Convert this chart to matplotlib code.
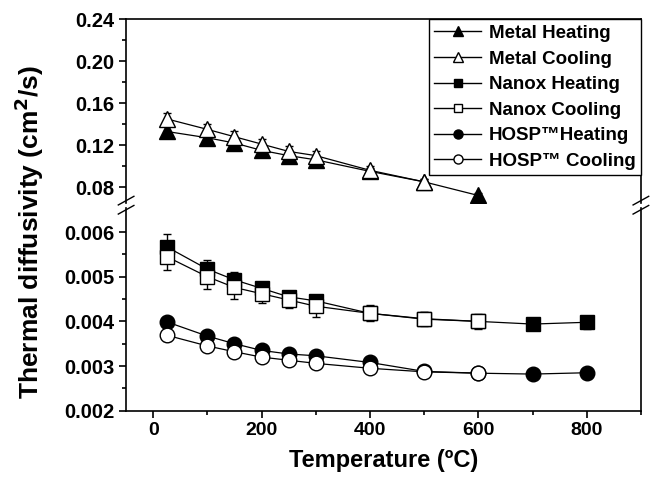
import numpy as np
import matplotlib as mpl
mpl.use('Agg')
import matplotlib.pyplot as plt
from matplotlib.lines import Line2D

plt.rcParams['font.family'] = ['Liberation Sans', 'DejaVu Sans']
plt.rcParams['font.weight'] = 'bold'

# temperatures (C)
temp_metal = [25, 100, 150, 200, 250, 300, 400, 500, 600]
metal_heat = [0.133, 0.127, 0.122, 0.115, 0.110, 0.106, 0.095, 0.085, 0.072]
metal_heat_err = [0.005, 0.004, 0.004, 0.004, 0.004, 0.004, 0.003, 0.003, 0.002]
temp_metal_c = [25, 100, 150, 200, 250, 300, 400, 500]
metal_cool = [0.145, 0.135, 0.128, 0.121, 0.114, 0.110, 0.096, 0.085]
metal_cool_err = [0.006, 0.005, 0.005, 0.005, 0.005, 0.004, 0.004, 0.003]

temp = [25, 100, 150, 200, 250, 300, 400, 500, 600, 700, 800]
nanox_heat = [0.00567, 0.00517, 0.00493, 0.00474, 0.00455, 0.00446, 0.00418, 0.00406, 0.00400, 0.00394, 0.00398]
nanox_heat_err = [0.00028, 0.00020, 0.00018, 0.00014, 0.00012, 0.00014, 0.00016, 0.00014, 0.00014, 0.00014, 0.00015]
temp_c = [25, 100, 150, 200, 250, 300, 400, 500, 600]
nanox_cool = [0.00545, 0.00500, 0.00476, 0.00462, 0.00448, 0.00434, 0.00418, 0.00405, 0.00400]
nanox_cool_err = [0.00030, 0.00028, 0.00026, 0.00020, 0.00018, 0.00024, 0.00018, 0.00016, 0.00016]

hosp_heat = [0.00399, 0.00367, 0.00350, 0.00335, 0.00327, 0.00323, 0.00308, 0.00288, 0.00284, 0.00282, 0.00285]
hosp_heat_err = [0.00010, 0.00008, 0.00008, 0.00008, 0.00007, 0.00007, 0.00008, 0.00006, 0.00006, 0.00006, 0.00006]
hosp_cool = [0.00369, 0.00345, 0.00332, 0.00320, 0.00313, 0.00306, 0.00295, 0.00287, 0.00284]
hosp_cool_err = [0.00012, 0.00011, 0.00010, 0.00009, 0.00009, 0.00008, 0.00008, 0.00007, 0.00006]

labels = ['Metal Heating', 'Metal Cooling', 'Nanox Heating', 'Nanox Cooling',
          'HOSP\u2122Heating', 'HOSP\u2122 Cooling']

fig = plt.figure(figsize=(6.5, 4.8), dpi=100)
ax_top = fig.add_axes([0.194, 0.577, 0.792, 0.383])
ax_bot = fig.add_axes([0.194, 0.1444, 0.792, 0.4223])

kw = dict(color='black', lw=0.9, elinewidth=1.0, capsize=3, capthick=1.0, mec='black')

# top panel: metal
ax_top.errorbar(temp_metal, metal_heat, yerr=metal_heat_err, fmt='-^', ms=11.5, mfc='black', **kw)
ax_top.errorbar(temp_metal_c, metal_cool, yerr=metal_cool_err, fmt='-^', ms=11.5, mfc='white', **kw)
# bottom panel: nanox and hosp
ax_bot.errorbar(temp, nanox_heat, yerr=nanox_heat_err, fmt='-s', ms=9.5, mfc='black', **kw)
ax_bot.errorbar(temp_c, nanox_cool, yerr=nanox_cool_err, fmt='-s', ms=9.5, mfc='white', **kw)
ax_bot.errorbar(temp, hosp_heat, yerr=hosp_heat_err, fmt='-o', ms=10.5, mfc='black', **kw)
ax_bot.errorbar(temp_c, hosp_cool, yerr=hosp_cool_err, fmt='-o', ms=10.5, mfc='white', **kw)

for ax in (ax_top, ax_bot):
    ax.set_xlim(-50, 900)
    for s in ax.spines.values():
        s.set_linewidth(1.2)
    ax.tick_params(axis='y', which='both', direction='out', right=False, labelsize=14.5, width=1.2)
    ax.tick_params(axis='y', which='major', length=5)
    ax.tick_params(axis='y', which='minor', length=3)

ax_top.set_ylim(0.0648, 0.24)
ax_top.set_yticks([0.08, 0.12, 0.16, 0.20, 0.24])
ax_top.set_yticklabels(['0.08', '0.12', '0.16', '0.20', '0.24'], fontweight='bold')
ax_top.set_yticks(np.arange(0.10, 0.23, 0.04), minor=True)
ax_top.spines['bottom'].set_visible(False)
ax_top.tick_params(axis='x', which='both', bottom=False, labelbottom=False, top=False)

ax_bot.set_ylim(0.002, 0.00654)
ax_bot.set_yticks([0.002, 0.003, 0.004, 0.005, 0.006])
ax_bot.set_yticklabels(['0.002', '0.003', '0.004', '0.005', '0.006'], fontweight='bold')
ax_bot.set_yticks(np.arange(0.0025, 0.0065, 0.001), minor=True)
ax_bot.spines['top'].set_visible(False)
ax_bot.set_xticks([0, 200, 400, 600, 800])
ax_bot.set_xticklabels(['0', '200', '400', '600', '800'], fontweight='bold')
ax_bot.set_xticks([100, 300, 500, 700, 900], minor=True)
ax_bot.tick_params(axis='x', which='both', direction='out', top=False, labelsize=14, width=1.2)
ax_bot.tick_params(axis='x', which='major', length=5)
ax_bot.tick_params(axis='x', which='minor', length=3)

ax_bot.set_xlabel('Temperature (ºC)', fontsize=17, fontweight='bold', labelpad=7)
fig.text(0.045, 0.517, 'Thermal diffusivity (cm$^{\\mathbf{2}}$/s)', rotation=90,
         ha='center', va='center', fontsize=19, fontweight='bold')

# break marks
for xf in (0.194, 0.986):
    for yf in (0.582, 0.563):
        fig.add_artist(Line2D([xf - 0.012, xf + 0.012], [yf - 0.009, yf + 0.009],
                              color='black', lw=1.0, transform=fig.transFigure))

# legend
handles = [
    Line2D([], [], color='black', lw=1, marker='^', ms=7, mfc='black', mec='black'),
    Line2D([], [], color='black', lw=1, marker='^', ms=7, mfc='white', mec='black'),
    Line2D([], [], color='black', lw=1, marker='s', ms=6, mfc='black', mec='black'),
    Line2D([], [], color='black', lw=1, marker='s', ms=6, mfc='white', mec='black'),
    Line2D([], [], color='black', lw=1, marker='o', ms=6.5, mfc='black', mec='black'),
    Line2D([], [], color='black', lw=1, marker='o', ms=6.5, mfc='white', mec='black'),
]
leg = ax_top.legend(handles, labels, loc='upper right', bbox_to_anchor=(1.0, 1.0),
                    borderaxespad=0, fancybox=False, edgecolor='black', framealpha=1,
                    prop={'weight': 'bold', 'size': 13.5},
                    handlelength=2.5, handletextpad=0.4, labelspacing=0.45,
                    borderpad=0.3)
leg.get_frame().set_linewidth(1.0)

plt.savefig('out.png', dpi=100)
